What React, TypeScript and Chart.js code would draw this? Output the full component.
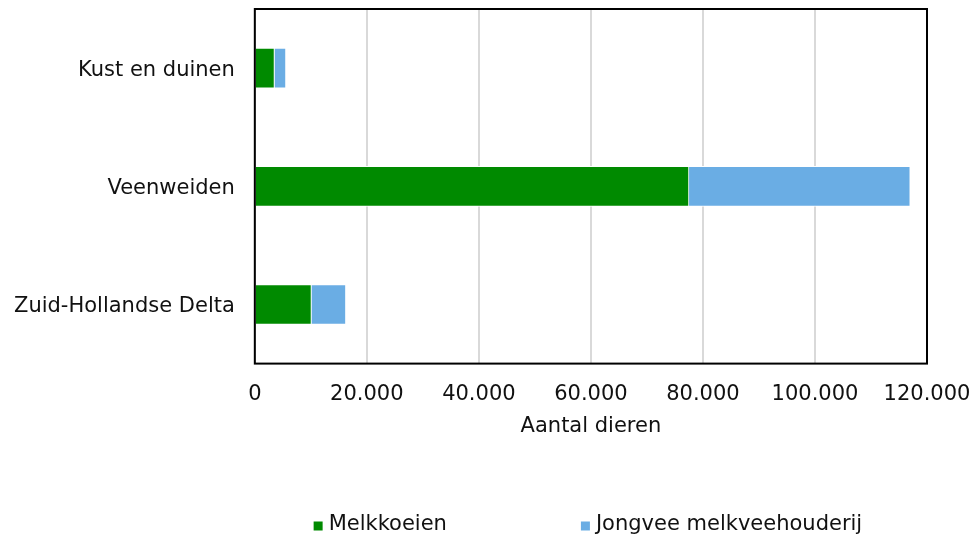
import React, { useEffect, useRef } from 'react';
import { Chart, registerables } from 'chart.js';

Chart.register(...registerables);

const categories = ['Kust en duinen', 'Veenweiden', 'Zuid-Hollandse Delta'];
const seriesLabels = ['Melkkoeien', 'Jongvee melkveehouderij'];
const melkkoeien = [3500, 77500, 10100];
const jongvee = [2050, 39500, 6150];
const xMin = 0;
const xMax = 120000;
const xStep = 20000;
const axisTitle = 'Aantal dieren';
const colors = ['#008a00', '#6aade4'];

const FONT = '"DejaVu Sans", Verdana, sans-serif';
const TEXT = '#111111';
const X_TICK_PAD = 18;
const Y_TICK_PAD = 20;

const fmt = (v: number) => String(Math.round(v)).replace(/\B(?=(\d{3})+(?!\d))/g, '.');

const framePlugin = {
  id: 'frame',
  afterDatasetsDraw(chart: any) {
    const { ctx, chartArea } = chart;
    const { left, top, right, bottom } = chartArea;
    ctx.save();
    ctx.strokeStyle = '#000000';
    ctx.lineWidth = 2;
    ctx.strokeRect(left, top, right - left, bottom - top);
    ctx.restore();
  },
};

const legendPlugin = {
  id: 'customLegend',
  afterDraw(chart: any) {
    const ctx = chart.ctx;
    const ds = chart.data.datasets;
    ctx.save();
    ctx.font = `21px ${FONT}`;
    const box = 9;
    const gapText = 6;
    const gapItems = 134;
    const widths = ds.map((d: any) => box + gapText + ctx.measureText(d.label).width);
    const total = widths.reduce((a: number, b: number) => a + b, 0) + gapItems * (ds.length - 1);
    let x = (chart.chartArea.left + chart.chartArea.right) / 2 - total / 2 - 3;
    const y = chart.height - 13;
    ds.forEach((d: any, i: number) => {
      ctx.fillStyle = d.backgroundColor;
      ctx.fillRect(x, y - box / 2 + 1, box, box);
      ctx.fillStyle = TEXT;
      ctx.textBaseline = 'middle';
      ctx.textAlign = 'left';
      ctx.fillText(d.label, x + box + gapText, y);
      x += widths[i] + gapItems;
    });
    ctx.restore();
  },
};

export default function App() {
  const ref = useRef<HTMLCanvasElement | null>(null);
  useEffect(() => {
    if (!ref.current) return;
    const chart = new Chart(ref.current, {
      type: 'bar',
      data: {
        labels: categories,
        datasets: [
          {
            label: seriesLabels[0],
            data: melkkoeien,
            backgroundColor: colors[0],
            borderColor: '#ffffff',
            borderWidth: 1,
            barThickness: 40,
          },
          {
            label: seriesLabels[1],
            data: jongvee,
            backgroundColor: colors[1],
            borderColor: '#ffffff',
            borderWidth: 1,
            barThickness: 40,
          },
        ],
      },
      options: {
        indexAxis: 'y',
        animation: false,
        responsive: true,
        maintainAspectRatio: false,
        layout: { padding: { top: 9, right: 47, bottom: 97, left: 14 } },
        plugins: {
          legend: { display: false },
          tooltip: { enabled: false },
        },
        scales: {
          x: {
            stacked: true,
            min: xMin,
            max: xMax,
            afterFit: (s: any) => {
              s.paddingLeft = 0;
              s.paddingRight = 0;
              s.height = s.height - X_TICK_PAD;
            },
            ticks: {
              stepSize: xStep,
              padding: X_TICK_PAD,
              color: TEXT,
              font: { family: FONT, size: 21 },
              callback: (v: any) => fmt(Number(v)),
              maxRotation: 0,
            },
            grid: { color: '#d9d9d9', lineWidth: 2, drawTicks: false },
            border: { display: false },
            title: {
              display: true,
              text: axisTitle,
              color: TEXT,
              font: { family: FONT, size: 21 },
              padding: { top: 7, bottom: 2 },
            },
          },
          y: {
            stacked: true,
            afterFit: (s: any) => {
              s.paddingTop = 0;
              s.paddingBottom = 0;
              s.width = s.width - Y_TICK_PAD;
            },
            ticks: {
              padding: Y_TICK_PAD,
              labelOffset: 2,
              color: TEXT,
              font: { family: FONT, size: 21 },
            },
            grid: { display: false, drawTicks: false },
            border: { display: false },
          },
        },
      },
      plugins: [framePlugin, legendPlugin],
    });
    return () => chart.destroy();
  }, []);
  return (
    <div style={{ position: 'absolute', left: 0, top: 0, width: 974, height: 538 }}>
      <canvas ref={ref} />
    </div>
  );
}
